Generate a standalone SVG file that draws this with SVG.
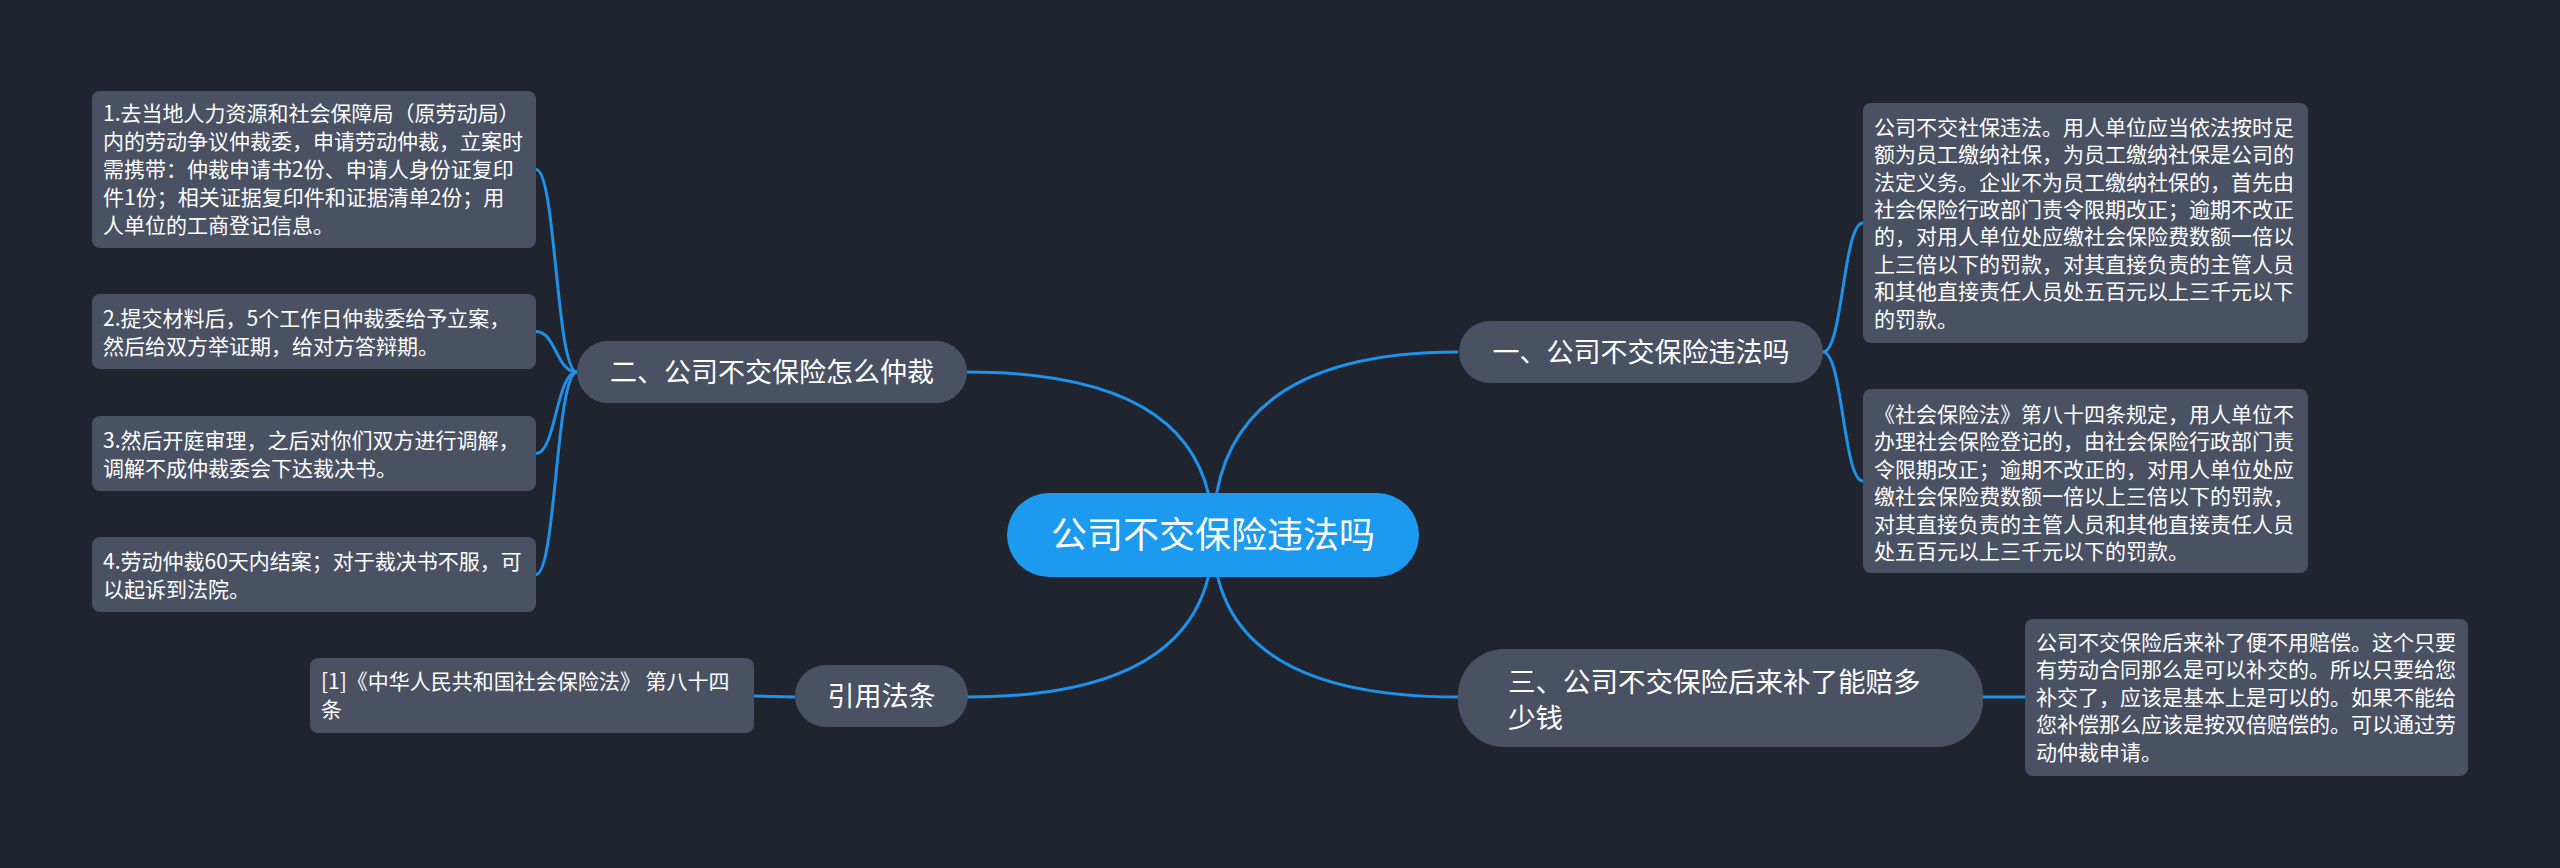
<svg xmlns="http://www.w3.org/2000/svg" width="2560" height="868" viewBox="0 0 2560 868">
<style>
.bg{fill:#20242f}
.leaf{fill:#4a5162}
.br{fill:#4a5162}
.root{fill:#1b9af0}
.c{fill:none;stroke:#1e92ea;stroke-width:3}
text{font-family:"Noto Sans CJK SC","Noto Sans",sans-serif;fill:#ffffff}
.t21{font-size:21px}
.t27{font-size:27px}
.t28{font-size:27.5px}
.t36{font-size:36px}
.mid{text-anchor:middle}
</style>
<rect class="bg" x="0" y="0" width="2560" height="868"/>
<g id="connectors">
<path class="c" d="M1213 535 Q1213 352 1458 352"/>
<path class="c" d="M1213 535 Q1213 372 967 372"/>
<path class="c" d="M1213 535 Q1213 697 1458 697"/>
<path class="c" d="M1213 535 Q1213 697 967 697"/>
<path class="c" d="M1823 352 C1843 352 1843 223 1863 223"/>
<path class="c" d="M1823 352 C1843 352 1843 481 1863 481"/>
<path class="c" d="M577 372 C556 372 556 169.5 536 169.5"/>
<path class="c" d="M577 372 C556 372 556 331.5 536 331.5"/>
<path class="c" d="M577 372 C556 372 556 453.5 536 453.5"/>
<path class="c" d="M577 372 C556 372 556 574.5 536 574.5"/>
<path class="c" d="M1983 697 L2025 697"/>
<path class="c" d="M795 697 L754 696"/>
</g>
<g id="root">
<rect class="root" x="1007" y="493" width="412" height="84" rx="42"/>
<text class="t36 mid" x="1213" y="548">公司不交保险违法吗</text>
</g>
<g id="b1">
<rect class="br" x="1459" y="321" width="364" height="62" rx="31"/>
<text class="t27 mid" x="1641" y="362">一、公司不交保险违法吗</text>
</g>
<g id="b2">
<rect class="br" x="577" y="341" width="390" height="62" rx="31"/>
<text class="t27 mid" x="772" y="382">二、公司不交保险怎么仲裁</text>
</g>
<g id="b3">
<rect class="br" x="1458" y="649" width="525" height="98" rx="46"/>
<text class="t28" x="1508" y="692">三、公司不交保险后来补了能赔多</text>
<text class="t28" x="1508" y="728">少钱</text>
</g>
<g id="b4">
<rect class="br" x="795" y="665" width="173" height="62" rx="31"/>
<text class="t27 mid" x="881.5" y="706">引用法条</text>
</g>
<g id="l1">
<rect class="leaf" x="92" y="91" width="444" height="157" rx="8"/>
<text class="t21" x="103" y="121">1.去当地人力资源和社会保障局（原劳动局）</text>
<text class="t21" x="103" y="149">内的劳动争议仲裁委，申请劳动仲裁，立案时</text>
<text class="t21" x="103" y="177">需携带：仲裁申请书2份、申请人身份证复印</text>
<text class="t21" x="103" y="205">件1份；相关证据复印件和证据清单2份；用</text>
<text class="t21" x="103" y="233">人单位的工商登记信息。</text>
</g>
<g id="l2">
<rect class="leaf" x="92" y="294" width="444" height="75" rx="8"/>
<text class="t21" x="103" y="326">2.提交材料后，5个工作日仲裁委给予立案，</text>
<text class="t21" x="103" y="354">然后给双方举证期，给对方答辩期。</text>
</g>
<g id="l3">
<rect class="leaf" x="92" y="416" width="444" height="75" rx="8"/>
<text class="t21" x="103" y="448">3.然后开庭审理，之后对你们双方进行调解，</text>
<text class="t21" x="103" y="476">调解不成仲裁委会下达裁决书。</text>
</g>
<g id="l4">
<rect class="leaf" x="92" y="537" width="444" height="75" rx="8"/>
<text class="t21" x="103" y="569">4.劳动仲裁60天内结案；对于裁决书不服，可</text>
<text class="t21" x="103" y="597">以起诉到法院。</text>
</g>
<g id="l5">
<rect class="leaf" x="310" y="658" width="444" height="75" rx="8"/>
<text class="t21" x="321" y="689">[1]《中华人民共和国社会保险法》 第八十四</text>
<text class="t21" x="321" y="717">条</text>
</g>
<g id="r1">
<rect class="leaf" x="1863" y="103" width="445" height="240" rx="8"/>
<text class="t21" x="1874" y="135">公司不交社保违法。用人单位应当依法按时足</text>
<text class="t21" x="1874" y="162">额为员工缴纳社保，为员工缴纳社保是公司的</text>
<text class="t21" x="1874" y="190">法定义务。企业不为员工缴纳社保的，首先由</text>
<text class="t21" x="1874" y="217">社会保险行政部门责令限期改正；逾期不改正</text>
<text class="t21" x="1874" y="244">的，对用人单位处应缴社会保险费数额一倍以</text>
<text class="t21" x="1874" y="272">上三倍以下的罚款，对其直接负责的主管人员</text>
<text class="t21" x="1874" y="299">和其他直接责任人员处五百元以上三千元以下</text>
<text class="t21" x="1874" y="327">的罚款。</text>
</g>
<g id="r2">
<rect class="leaf" x="1863" y="389" width="445" height="184" rx="8"/>
<text class="t21" x="1874" y="422">《社会保险法》第八十四条规定，用人单位不</text>
<text class="t21" x="1874" y="449">办理社会保险登记的，由社会保险行政部门责</text>
<text class="t21" x="1874" y="477">令限期改正；逾期不改正的，对用人单位处应</text>
<text class="t21" x="1874" y="504">缴社会保险费数额一倍以上三倍以下的罚款，</text>
<text class="t21" x="1874" y="532">对其直接负责的主管人员和其他直接责任人员</text>
<text class="t21" x="1874" y="559">处五百元以上三千元以下的罚款。</text>
</g>
<g id="r3">
<rect class="leaf" x="2025" y="619" width="443" height="157" rx="8"/>
<text class="t21" x="2036" y="650">公司不交保险后来补了便不用赔偿。这个只要</text>
<text class="t21" x="2036" y="677">有劳动合同那么是可以补交的。所以只要给您</text>
<text class="t21" x="2036" y="705">补交了，应该是基本上是可以的。如果不能给</text>
<text class="t21" x="2036" y="732">您补偿那么应该是按双倍赔偿的。可以通过劳</text>
<text class="t21" x="2036" y="760">动仲裁申请。</text>
</g>
</svg>
